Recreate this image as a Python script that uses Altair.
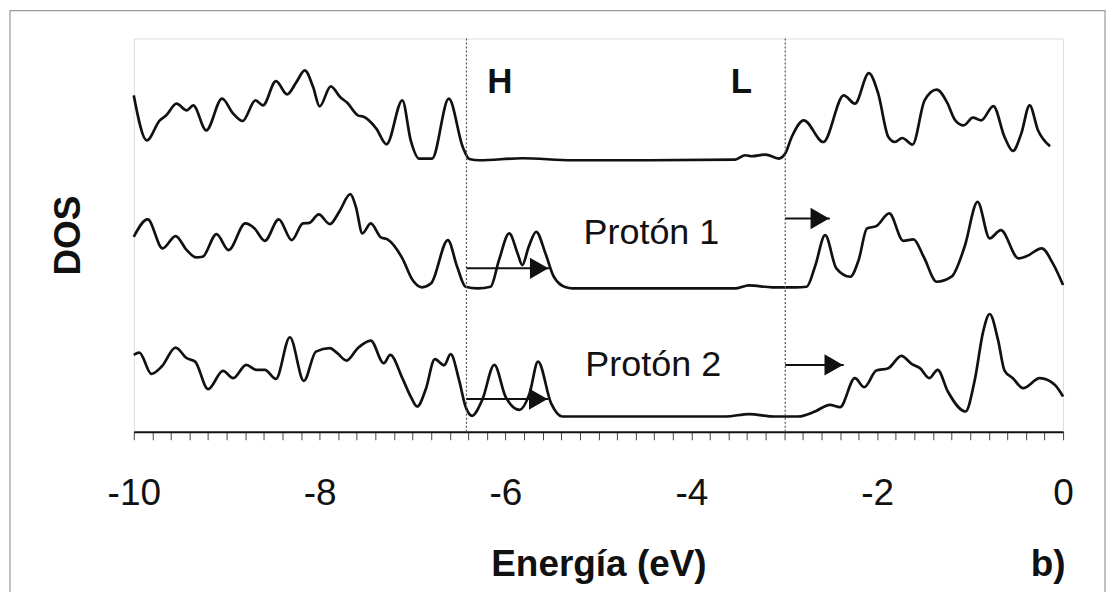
import altair as alt
import pandas as pd

# ---- data (E in eV, DOS in arbitrary units, curves already offset) ----
E_top = [-10.00, -9.86, -9.72, -9.65, -9.54, -9.43, -9.36, -9.22, -9.05, -8.93, -8.83, -8.69, -8.61,
         -8.47, -8.35, -8.25, -8.16, -8.07, -8.00, -7.88, -7.78, -7.70, -7.59, -7.52, -7.39, -7.28,
         -7.11, -7.02, -6.93, -6.79, -6.61, -6.46, -6.39, -6.28, -5.82, -5.28, -4.46, -3.53, -3.42,
         -3.35, -3.20, -3.06, -2.99, -2.92, -2.79, -2.58, -2.36, -2.24, -2.09, -1.99, -1.88, -1.81,
         -1.73, -1.62, -1.49, -1.36, -1.25, -1.16, -1.07, -0.97, -0.88, -0.75, -0.63, -0.54, -0.45,
         -0.36, -0.27, -0.14]
dos_top = [337, 292, 312, 317, 328.7, 322, 327, 302, 333.7, 318.7, 311.3, 332, 327,
           351.3, 338, 350.3, 362, 345.3, 326, 346, 335.3, 329.3, 317, 315.3, 303.7, 288,
           332, 292, 273.7, 273.7, 333.7, 285.3, 273.3, 272, 274, 272, 272, 272.7, 277,
           276, 277.7, 273.7, 278.7, 295.3, 312, 290.3, 337, 328.7, 359.3, 339, 295.3, 290.3,
           294.3, 287.7, 332, 342.7, 330.3, 312, 307, 314.7, 312, 326.3, 295.3, 281.3, 298.7,
           327, 302, 286]

E_p1 = [-10.00, -9.85, -9.69, -9.55, -9.43, -9.33, -9.26, -9.11, -8.98, -8.80, -8.70, -8.59, -8.44,
        -8.30, -8.18, -8.11, -8.01, -7.89, -7.79, -7.67, -7.61, -7.54, -7.45, -7.34, -7.27, -7.11,
        -7.00, -6.90, -6.80, -6.62, -6.52, -6.43, -6.30, -6.16, -6.07, -5.96, -5.87, -5.82, -5.75,
        -5.67, -5.57, -5.48, -5.35, -5.28, -4.46, -3.52, -3.38, -3.13, -2.88, -2.76, -2.67, -2.56,
        -2.44, -2.29, -2.20, -2.11, -2.01, -1.87, -1.72, -1.61, -1.50, -1.36, -1.20, -1.06, -0.92,
        -0.79, -0.67, -0.48, -0.39, -0.23, -0.11, 0.00]
dos_p1 = [195.3, 212.7, 183.7, 196, 182, 174.7, 175.3, 198, 182, 208.7, 203.7, 191.3, 212.7,
          192, 208.7, 209.3, 217.7, 208, 220.3, 238, 225.3, 198.7, 208.7, 194.7, 192.7, 173.7,
          152, 144.7, 148.7, 192, 165.3, 145.3, 143.7, 145.3, 172, 198.7, 178.7, 167, 185.3,
          200.3, 178.7, 155.3, 144.7, 143.7, 143.7, 143.7, 146.7, 144.7, 144.7, 145.3, 165.3, 197,
          163.7, 155.3, 172, 203.7, 206, 218.7, 191.3, 192.7, 175.3, 150.3, 155.3, 185.3, 230.3,
          193.7, 202, 173.7, 176, 183.7, 168.7, 147]

E_p2 = [-10.00, -9.94, -9.81, -9.70, -9.55, -9.43, -9.34, -9.20, -9.04, -8.93, -8.79, -8.68, -8.59,
        -8.47, -8.32, -8.17, -8.04, -7.89, -7.81, -7.71, -7.59, -7.45, -7.31, -7.24, -7.11, -7.02,
        -6.95, -6.86, -6.76, -6.66, -6.59, -6.50, -6.43, -6.36, -6.25, -6.12, -6.00, -5.85, -5.74,
        -5.65, -5.51, -5.39, -5.28, -4.46, -3.63, -3.38, -3.10, -2.85, -2.67, -2.51, -2.40, -2.24,
        -2.14, -2.01, -1.88, -1.74, -1.63, -1.54, -1.44, -1.35, -1.24, -1.05, -0.95, -0.86, -0.79,
        -0.70, -0.63, -0.54, -0.43, -0.25, -0.09, 0.00]
dos_p2 = [77, 79.3, 58, 65.3, 84.3, 73.7, 70.3, 42.7, 61, 53.7, 67, 62, 62,
          53, 94.7, 51, 80.3, 83.7, 78.7, 71.3, 83.7, 91.3, 68.7, 77, 53.7, 35.3,
          25.3, 42, 72.7, 66.7, 77.7, 52, 25.3, 16, 32, 67, 35.3, 22, 38.7,
          70.3, 28.7, 15.3, 15.3, 15.3, 15.3, 17.7, 15.3, 15.3, 20.3, 27, 24.7, 53.7,
          44.7, 61.3, 63.7, 76, 68, 63.7, 53.7, 62, 40.3, 20.3, 52, 100.3, 118,
          92, 61.3, 53.7, 43.7, 53.7, 47, 35.3]

# HOMO / LUMO dotted markers
gap_E = [-6.42, -2.99]
gap_label = ["H", "L"]
gap_label_E = [-6.06, -3.46]
gap_label_y = [339, 339]

# curve labels
curve_label = ["Protón 1", "Protón 2"]
curve_label_E = [-4.43, -4.41]
curve_label_y = [188, 56]

# shift arrows
arrow_start = [-6.42, -2.99, -6.42, -2.99]
arrow_end = [-5.53, -2.51, -5.54, -2.36]
arrow_y = [163.7, 213.7, 32.7, 67]

major_ticks = [-10, -8, -6, -4, -2, 0]
minor_ticks = [round(-10 + 0.2 * i, 1) for i in range(51)]

FONT = "Liberation Sans"

curves = pd.concat([
    pd.DataFrame({"E": E_top, "DOS": dos_top, "serie": "Neutra"}),
    pd.DataFrame({"E": E_p1, "DOS": dos_p1, "serie": "Protón 1"}),
    pd.DataFrame({"E": E_p2, "DOS": dos_p2, "serie": "Protón 2"}),
], ignore_index=True)
curves["orden"] = range(len(curves))

xscale = alt.Scale(domain=[-10, 0], nice=False, zero=False)
yscale = alt.Scale(domain=[0, 394], nice=False, zero=False)

x_axis = alt.Axis(
    values=minor_ticks,
    labelExpr="round(datum.value*10) % 20 == 0 ? toString(round(datum.value)) : ''",
    labelOverlap=False, labelFlush=False, grid=False,
    labelFont=FONT, labelFontSize=37, labelColor="#111", labelPadding=36,
    tickSize=8, tickColor="#444", tickWidth=1,
    domainColor="#111", domainWidth=2.2,
    title="Energía (eV)", titleFont=FONT, titleFontSize=37, titleFontWeight="bold",
    titleColor="#111", titlePadding=35,
)
y_axis = alt.Axis(
    labels=False, ticks=False, domain=False, grid=False,
    title="DOS", titleFont=FONT, titleFontSize=37, titleFontWeight="bold",
    titleColor="#111", titlePadding=46,
)


def X(field):
    return alt.X(field, type="quantitative", scale=xscale, axis=x_axis)


def Y(field):
    return alt.Y(field, type="quantitative", scale=yscale, axis=y_axis)


lines = alt.Chart(curves).mark_line(
    color="#111", strokeWidth=2.7, interpolate="monotone"
).encode(
    x=X("E"),
    y=Y("DOS"),
    detail="serie:N",
    order="orden:Q",
)

gap_df = pd.DataFrame({"E": gap_E, "label": gap_label, "lE": gap_label_E, "ly": gap_label_y})
gap_rules = alt.Chart(gap_df).mark_rule(color="#555", strokeWidth=1.2, strokeDash=[2, 2]).encode(
    x=X("E")
)
gap_text = alt.Chart(gap_df).mark_text(
    font=FONT, fontSize=35, fontWeight="bold", color="#111", align="center", baseline="alphabetic"
).encode(
    x=X("lE"),
    y=Y("ly"),
    text="label:N",
)

lab_df = pd.DataFrame({"label": curve_label, "E": curve_label_E, "y": curve_label_y})
lab_text = alt.Chart(lab_df).mark_text(
    font=FONT, fontSize=36, color="#111", align="center", baseline="alphabetic"
).encode(
    x=X("E"),
    y=Y("y"),
    text="label:N",
)

arr_df = pd.DataFrame({"x1": arrow_start, "x2": arrow_end, "y": arrow_y})
arr_shaft = alt.Chart(arr_df).mark_rule(color="#111", strokeWidth=2).encode(
    x=X("x1"),
    x2="x2:Q",
    y=Y("y"),
)
arr_head = alt.Chart(arr_df).mark_point(
    shape="triangle-right", filled=True, color="#111", opacity=1, size=460, xOffset=-10
).encode(
    x=X("x2"),
    y=Y("y"),
)

one = pd.DataFrame({"t": ["b)"]})
panel_tag = alt.Chart(one).mark_text(
    font=FONT, fontSize=37, fontWeight="bold", color="#111", align="center", baseline="alphabetic"
).encode(x=alt.value(916), y=alt.value(539), text="t:N")

outer_frame = alt.Chart(one).mark_rect(
    fillOpacity=0, stroke="#999", strokeWidth=1.2
).encode(x=alt.value(-124), x2=alt.value(973), y=alt.value(-28), y2=alt.value(700))

chart = alt.layer(
    lines, gap_rules, arr_shaft, arr_head, gap_text, lab_text, panel_tag, outer_frame
).properties(
    width=931, height=394,
    padding={"left": 126, "top": 30, "right": 44, "bottom": 160},
    autosize=alt.AutoSizeParams(type="none"),
).configure_view(
    stroke="#222", strokeWidth=1.4
).configure(background="white")

chart.save("out.html", embed_options={"renderer": "svg", "actions": False})
